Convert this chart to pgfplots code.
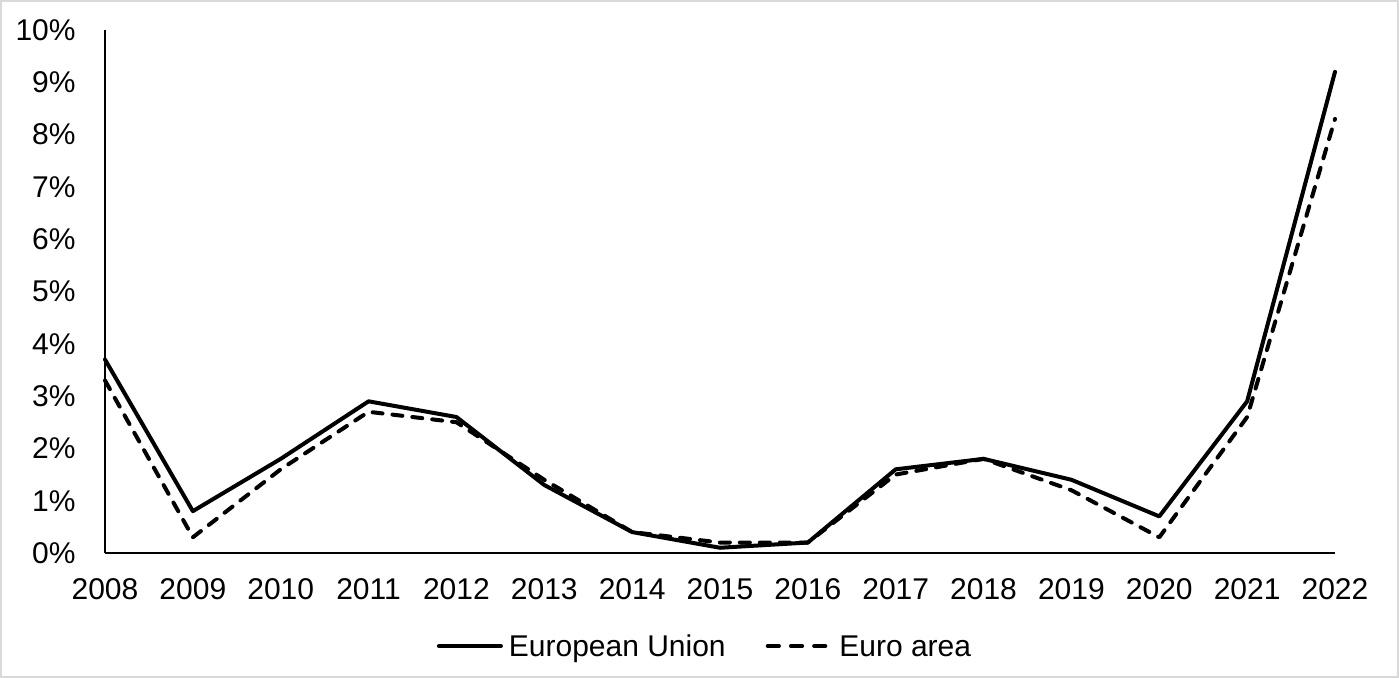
\documentclass[border=0pt]{standalone}
\usepackage{pgfplots}
\pgfplotsset{compat=1.18}
\usepackage{fontspec}
\setmainfont{Liberation Sans}
\definecolor{frame}{HTML}{D9D9D9}
\pgfplotsset{
  solidleg/.style={legend image code/.code={\draw[##1] (0pt,0pt) -- (31pt,0pt);}},
  dashleg/.style={legend image code/.code={\draw[##1, dash pattern=on 5.6pt off 6pt] (0pt,0pt) -- (28.8pt,0pt);}},
}
\begin{document}
\fontsize{15}{18}\selectfont
\begin{tikzpicture}
\path[use as bounding box] (-52.5pt,-62.5pt) rectangle (647pt,276.5pt);
\draw[frame, line width=1pt] (-52pt,-62pt) rectangle (646.5pt,276pt);
\begin{axis}[
  at={(0pt,0pt)}, anchor=south west,
  scale only axis, width=615pt, height=261.5pt,
  xmin=0, xmax=14, ymin=0, ymax=10,
  clip=false,
  axis x line*=bottom, axis y line*=left,
  axis line style={-, black, line width=1pt},
  major tick length=0pt,
  xtick={0,...,14},
  xticklabels={2008,2009,2010,2011,2012,2013,2014,2015,2016,2017,2018,2019,2020,2021,2022},
  ytick={0,...,10},
  yticklabels={0\%,1\%,2\%,3\%,4\%,5\%,6\%,7\%,8\%,9\%,10\%},
  xticklabel style={anchor=north, inner sep=0pt, yshift=-12.6pt, font=\fontsize{15}{18}\selectfont},
  yticklabel style={anchor=east, inner sep=0pt, xshift=-14.5pt, font=\fontsize{15}{18}\selectfont},
  legend style={at={(0.487,-0.178)}, anchor=center, draw=none, fill=none,
    font=\fontsize{15}{18}\selectfont, legend columns=2,
    /tikz/every even column/.append style={column sep=20pt},
    inner sep=0pt, nodes={inner sep=0pt, text depth=0pt}},
  legend cell align=left,
]
\addplot[black, line width=2pt, line join=round, line cap=round, solidleg] coordinates {
(0,3.7) (1,0.8) (2,1.8) (3,2.9) (4,2.6) (5,1.3) (6,0.4) (7,0.1) (8,0.2) (9,1.6) (10,1.8) (11,1.4) (12,0.7) (13,2.9) (14,9.2)};
\addlegendentry{\hspace{3pt}European Union}
\addplot[black, line width=2pt, line join=round, line cap=round, dash pattern=on 5pt off 5pt, dashleg] coordinates {
(0,3.3) (1,0.3) (2,1.6) (3,2.7) (4,2.5) (5,1.4) (6,0.4) (7,0.2) (8,0.2) (9,1.5) (10,1.8) (11,1.2) (12,0.3) (13,2.6) (14,8.3)};
\addlegendentry{\hspace{6pt}Euro area}
\end{axis}
\end{tikzpicture}
\end{document}
